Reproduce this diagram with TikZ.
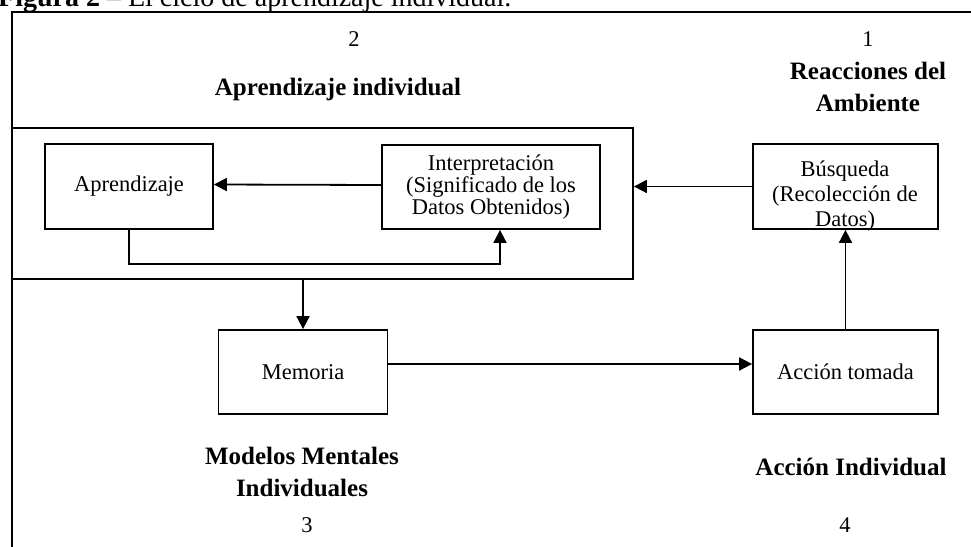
\documentclass[tikz,border=0pt]{standalone}
\usepackage{fontspec}
\setmainfont{Liberation Serif}
\usetikzlibrary{arrows.meta,calc}
\begin{document}
\begin{tikzpicture}[x=1pt,y=-1pt,
  frame/.style={line width=1.8pt},
  box/.style={draw,line width=1.8pt,rectangle,inner sep=0pt,align=center,
    font=\fontsize{22.5}{22}\selectfont},
  plain/.style={inner sep=0pt,align=center,font=\fontsize{22.5}{25}\selectfont},
  heading/.style={inner sep=0pt,align=center,font=\fontsize{25}{32}\selectfont\bfseries},
  flow/.style={line width=1.8pt,-{Triangle[length=13pt,width=13pt]}}]
\clip (0,0) rectangle (971,546);
\fill[white] (0,0) rectangle (971,546);

% caption line, cut by the top edge of the page
\node[inner sep=0pt,anchor=base west,font=\fontsize{28}{30}\selectfont] (caption) at (-2,6)
  {\textbf{Figura 2} – El ciclo de aprendizaje individual.};

% outer frame (left and top sides)
\draw[frame] (12,560) -- (12,12) -- (990,12);

% boxes
\node[box,minimum width=621pt,minimum height=151pt] (indiv) at (322.5,203.5) {};
\node[box,minimum width=168pt,minimum height=85pt] (aprend) at (129,186.5) {Aprendizaje};
\node[box,minimum width=218pt,minimum height=84pt] (interp) at (491,187)
  {Interpretación\\(Significado de los\\Datos Obtenidos)};
\node[box,minimum width=185pt,minimum height=85pt] (busq) at (845.5,186.5) {};
\node[plain] (busqtext) at (845,196) {Búsqueda\\(Recolección de\\Datos)};
\node[box,minimum width=169pt,minimum height=84pt] (memoria) at (303,372) {Memoria};
\node[box,minimum width=185pt,minimum height=84pt] (accion) at (845.5,372) {Acción tomada};

% stage numbers and headings
\node[plain,anchor=base] (n2) at (354,46) {2};
\node[plain,anchor=base] (n1) at (868,46) {1};
\node[heading,anchor=base] (h2) at (338,95) {Aprendizaje individual};
\node[heading] (h1) at (868,87) {Reacciones del\\Ambiente};
\node[heading] (h3) at (302,472) {Modelos Mentales\\Individuales};
\node[heading,anchor=base] (h4) at (851,475) {Acción Individual};
\node[plain,anchor=base] (n3) at (307,532) {3};
\node[plain,anchor=base] (n4) at (845,532) {4};

% connectors
\draw[flow] ([yshift=2pt]interp.west) -- ([yshift=2pt]aprend.east);
\draw[flow] (busq.west) -- (busq.west -| indiv.east);
\draw[flow] (aprend.south) |- ($(interp.south)+(9,34)$) -- ($(interp.south)+(9,0)$);
\draw[flow] (indiv.south -| memoria.north) -- (memoria.north);
\draw[flow] ([yshift=8pt]memoria.east) -- ([yshift=8pt]accion.west);
\draw[flow] (accion.north) -- (busq.south);
\end{tikzpicture}
\end{document}
